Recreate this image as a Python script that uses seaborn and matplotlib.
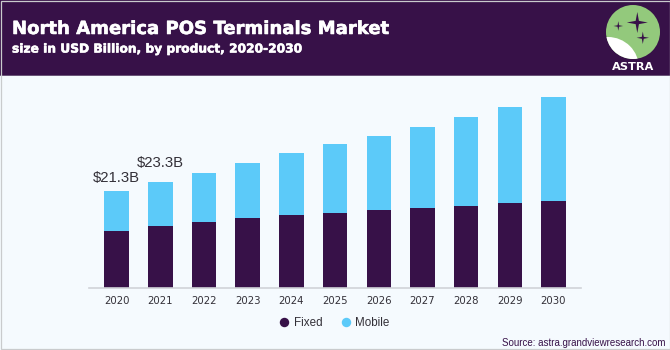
import numpy as np
import matplotlib
matplotlib.use("Agg")
import matplotlib.pyplot as plt
import matplotlib.patheffects as pe
from matplotlib.lines import Line2D
from matplotlib.patches import Circle, Polygon, Rectangle
import seaborn as sns

#data (USD billion)
years = ["2020", "2021", "2022", "2023", "2024", "2025", "2026", "2027", "2028", "2029", "2030"]
fixed = np.array([12.5, 13.7, 14.6, 15.3, 16.1, 16.4, 17.2, 17.7, 18.0, 18.8, 19.2])
mobile = np.array([8.8, 9.6, 10.8, 12.3, 13.5, 15.2, 16.2, 17.8, 19.7, 21.0, 22.8])
callouts = {0: "$21.3B", 1: "$23.3B"}

title = "North America POS Terminals Market"
subtitle = "size in USD Billion, by product, 2020-2030"
source = "Source: astra.grandviewresearch.com"

PURPLE = "#371148"
BLUE = "#5ccaf9"
GREEN = "#93c97c"
BG = "#f5fafe"
INK = "#333038"

W, H = 670, 350

sns.set_theme(style="white")
plt.rcParams["font.family"] = ["Liberation Sans", "DejaVu Sans"]

fig = plt.figure(figsize=(W / 100, H / 100), dpi=100, facecolor=BG)

#plot area, placed in pixels so the bars land where they do in the original
left, right, top, bottom = 89, 581, 78, 288
ax = fig.add_axes([left / W, 1 - bottom / H, (right - left) / W, (bottom - top) / H])
ax.set_facecolor("none")

sns.barplot(x=years, y=fixed, color=PURPLE, width=0.56, saturation=1, linewidth=0, ax=ax)
sns.barplot(x=years, y=mobile, bottom=fixed, color=BLUE, width=0.56, saturation=1, linewidth=0, ax=ax)

ax.set_xlim(-0.634, 10.63)
ax.set_ylim(0, 46.2)
ax.set_yticks([])
ax.set_xlabel("")
ax.set_ylabel("")
sns.despine(ax=ax, left=True)
ax.spines["bottom"].set_color("#d0d3d8")
ax.spines["bottom"].set_linewidth(1.2)
ax.tick_params(axis="x", length=0, pad=5.5, labelsize=7.3, labelcolor=INK)
for lab in ax.get_xticklabels():
    lab.set_family("DejaVu Sans")

#value labels on the first two bars
offsets = {0: 13, 1: 19}
for i, label in callouts.items():
    ax.annotate(label, xy=(i, fixed[i] + mobile[i]), xytext=(0, offsets[i] * 0.72),
                textcoords="offset points", ha="center", va="center",
                fontsize=10.7, color=INK)

handles = [
    Line2D([], [], ls="", marker="o", ms=6.8, mfc=PURPLE, mec="none", label="Fixed"),
    Line2D([], [], ls="", marker="o", ms=6.8, mfc=BLUE, mec="none", label="Mobile"),
]
fig.legend(handles=handles, loc="center", bbox_to_anchor=(334 / W, 1 - 323.5 / H), ncol=2,
           frameon=False, fontsize=8.4, labelcolor=INK, handlelength=1, handletextpad=0.3,
           columnspacing=1.5)

#overlay in pixel coordinates for the header, logo and frame
deco = fig.add_axes([0, 0, 1, 1], facecolor="none")
deco.set_xlim(0, W)
deco.set_ylim(H, 0)
deco.axis("off")

deco.add_patch(Rectangle((0, 0), W, 75, fc=PURPLE, ec="none"))
deco.add_patch(Rectangle((0, 75), W, 1, fc="#6a5478", ec="none"))
deco.add_patch(Rectangle((0.5, 0.5), W - 1, H - 1.5, fc="none", ec="#c9cbcd", lw=0.9))

heavy = [pe.withStroke(linewidth=0.4, foreground="white")]
deco.text(12, 29, title, color="white", fontsize=13, fontweight="bold", va="center",
          family="DejaVu Sans", path_effects=heavy)
deco.text(12, 49, subtitle, color="white", fontsize=8.8, fontweight="bold", va="center",
          family="DejaVu Sans", path_effects=heavy)

#logo
disc = Circle((633, 32), 27, fc=GREEN, ec="none")
deco.add_patch(disc)
hill = Circle((608, 68), 31, fc="white", ec="none")
deco.add_patch(hill)
hill.set_clip_path(disc)


def star(cx, cy, r):
    pts = []
    for k in range(8):
        a = k * np.pi / 4
        d = r if k % 2 == 0 else r * 0.22
        pts.append((cx + d * np.cos(a), cy + d * np.sin(a)))
    deco.add_patch(Polygon(pts, fc=PURPLE, ec="none"))


star(637.3, 22.5, 10.5)
star(618.3, 26, 4.8)
star(642.8, 37.8, 6.2)
deco.text(633, 67.5, "ASTRA", color="white", fontsize=8.2, fontweight="bold",
          ha="center", va="center", family="DejaVu Sans")

deco.text(666, 343, source, color=PURPLE, fontsize=7.05, ha="right", va="center")

fig.savefig("out.png", dpi=100, facecolor=BG)
